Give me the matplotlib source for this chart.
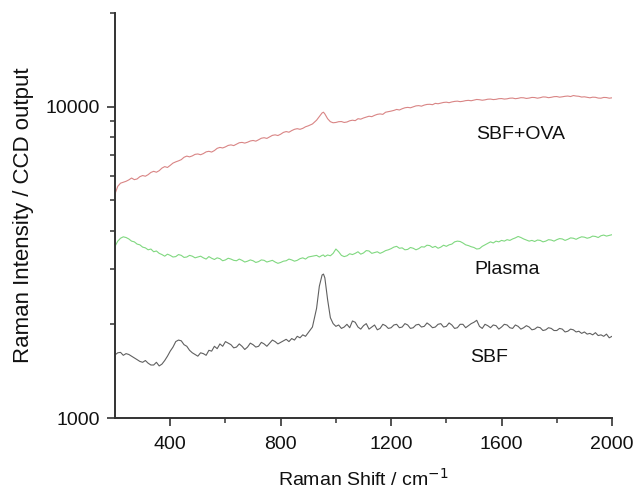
import numpy as np
import matplotlib
matplotlib.use("Agg")
import matplotlib.pyplot as plt
from matplotlib.ticker import FixedLocator, NullFormatter, LogLocator, FuncFormatter

plt.rcParams['font.family'] = ['Liberation Sans', 'DejaVu Sans']

# Raman shift (cm^-1)
shift = np.concatenate([
    np.arange(200, 901, 10),
    np.array([915, 930, 940, 950, 955, 960, 970, 980, 990]),
    np.arange(1000, 2001, 10),
])

sbf_ova = [
    # 200-900
    5250, 5550, 5680, 5720, 5760, 5820, 5900, 5830, 5860, 5960,
    6010, 5980, 6050, 6150, 6200, 6160, 6230, 6350, 6420, 6380,
    6480, 6590, 6650, 6700, 6760, 6880, 6940, 6900, 6950, 7030,
    7050, 7010, 7070, 7160, 7190, 7150, 7230, 7350, 7400, 7370,
    7430, 7510, 7540, 7500, 7580, 7660, 7680, 7640, 7690, 7760,
    7790, 7750, 7830, 7920, 7950, 7910, 8000, 8090, 8120, 8080,
    8160, 8270, 8320, 8280, 8380, 8460, 8500, 8460, 8520, 8620,
    8680,
    # peak region
    8800, 9050, 9300, 9550, 9600, 9480, 9150, 8950, 8880,
    # 1000-2000
    8900, 8950, 8960, 8900, 8930, 9010, 9050, 9020, 9150, 9120,
    9200, 9260, 9320, 9290, 9380, 9450, 9480, 9450, 9600, 9640,
    9680, 9730, 9800, 9760, 9850, 9920, 9950, 9920, 9990, 10060,
    10080, 10040, 10120, 10170, 10180, 10150, 10250, 10220, 10270, 10320,
    10340, 10300, 10360, 10400, 10420, 10380, 10410, 10460, 10480, 10450,
    10500, 10550, 10530, 10490, 10520, 10570, 10580, 10540, 10560, 10610,
    10620, 10580, 10600, 10650, 10660, 10610, 10640, 10690, 10680, 10630,
    10660, 10710, 10700, 10650, 10690, 10750, 10740, 10690, 10720, 10770,
    10780, 10730, 10760, 10800, 10820, 10780, 10860, 10820, 10800, 10740,
    10760, 10720, 10680, 10730, 10720, 10660, 10650, 10710, 10700, 10650,
    10680,
]

plasma = [
    # 200-900
    3560, 3700, 3780, 3820, 3800, 3760, 3700, 3680, 3620, 3600,
    3540, 3520, 3470, 3490, 3420, 3440, 3380, 3350, 3310, 3360,
    3330, 3290, 3300, 3350, 3330, 3280, 3290, 3330, 3310, 3270,
    3290, 3310, 3270, 3240, 3300, 3260, 3230, 3270, 3250, 3200,
    3220, 3260, 3240, 3210, 3200, 3240, 3210, 3170, 3190, 3220,
    3200, 3160, 3180, 3220, 3210, 3170, 3190, 3210, 3170, 3140,
    3160, 3190, 3200, 3240, 3220, 3190, 3210, 3250, 3270, 3240,
    3290,
    # peak region
    3310, 3330, 3290, 3330, 3340, 3300, 3340, 3320, 3380,
    # 1000-2000
    3490, 3420, 3330, 3300, 3320, 3370, 3350, 3380, 3420, 3360,
    3390, 3450, 3440, 3380, 3400, 3420, 3380, 3410, 3450, 3470,
    3500, 3540, 3560, 3510, 3520, 3470, 3480, 3530, 3510, 3470,
    3500, 3550, 3540, 3590, 3580, 3530, 3560, 3510, 3540, 3590,
    3560, 3600, 3620, 3680, 3700, 3690, 3650, 3600, 3580, 3550,
    3530, 3490, 3500, 3560, 3600, 3640, 3680, 3650, 3700, 3680,
    3720, 3700, 3740, 3720, 3760, 3790, 3830, 3800, 3760, 3730,
    3700, 3720, 3690, 3730, 3720, 3680, 3700, 3740, 3730, 3700,
    3740, 3770, 3760, 3720, 3750, 3790, 3780, 3750, 3790, 3820,
    3810, 3780, 3800, 3840, 3830, 3800, 3850, 3870, 3840, 3860,
    3880,
]

sbf = [
    # 200-900
    1595, 1620, 1625, 1590, 1610, 1600, 1580, 1560, 1540, 1520,
    1510, 1530, 1500, 1480, 1480, 1510, 1470, 1490, 1530, 1580,
    1640, 1690, 1760, 1780, 1770, 1720, 1700, 1650, 1620, 1600,
    1580, 1620, 1610, 1590, 1650, 1640, 1700, 1670, 1730, 1700,
    1760, 1740, 1720, 1680, 1690, 1730, 1700, 1660, 1690, 1740,
    1720, 1690, 1700, 1750, 1730, 1700, 1740, 1780, 1760, 1730,
    1750, 1770, 1790, 1760, 1800, 1780, 1830, 1810, 1850, 1830,
    1880,
    # peak region
    1960, 2250, 2650, 2880, 2900, 2820, 2400, 2100, 2010,
    # 1000-2000
    1970, 1990, 1940, 1960, 2000, 1950, 2050, 2030, 1960, 1930,
    1980, 2010, 1930, 1960, 1990, 1920, 1940, 2000, 1980, 1940,
    1950, 1990, 2000, 1950, 1960, 2010, 1990, 1940, 1950, 1990,
    2000, 1960, 1970, 2020, 1990, 1950, 1960, 2000, 2010, 1960,
    1970, 2020, 1990, 1940, 1950, 2000, 2000, 1950, 1980, 2010,
    2030, 2060, 1970, 1940, 2000, 1980, 1950, 1990, 1980, 1930,
    1960, 2000, 1990, 1950, 1940, 1990, 1970, 1930, 1950, 1980,
    1960, 1920, 1930, 1960, 1950, 1910, 1920, 1950, 1940, 1910,
    1910, 1940, 1930, 1890, 1900, 1930, 1920, 1890, 1900, 1870,
    1890, 1860, 1870, 1850, 1880, 1840, 1850, 1830, 1860, 1810,
    1830,
]

labels = ["SBF+OVA", "Plasma", "SBF"]
label_x = [1670, 1620, 1555]
label_y = [8130, 3010, 1560]
colors = ["#d98585", "#80d880", "#606060"]

fig = plt.figure(figsize=(6.34, 4.90), dpi=100)
ax = fig.add_axes([0.1814, 0.1469, 0.7839, 0.8266])

for ys, c in zip([sbf_ova, plasma, sbf], colors):
    ax.plot(shift, ys, color=c, lw=0.8)

for t, lx, ly in zip(labels, label_x, label_y):
    ax.text(lx, ly, t, ha='center', va='center', fontsize=14, color='#111111')

ax.set_yscale('log')
ax.set_xlim(200, 2000)
ax.set_ylim(1000, 20000)

ax.xaxis.set_major_locator(FixedLocator([400, 800, 1200, 1600, 2000]))
ax.xaxis.set_minor_locator(FixedLocator([600, 1000, 1400, 1800]))
ax.yaxis.set_major_locator(FixedLocator([1000, 10000]))
ax.yaxis.set_major_formatter(FuncFormatter(lambda v, p: f"{int(v)}"))
ax.yaxis.set_minor_locator(LogLocator(base=10, subs=np.arange(2, 10)))
ax.yaxis.set_minor_formatter(NullFormatter())

for s in ['top', 'right']:
    ax.spines[s].set_visible(False)
for s in ['left', 'bottom']:
    ax.spines[s].set_linewidth(1.4)
    ax.spines[s].set_color('#333333')

ax.tick_params(which='major', direction='out', length=6, width=1.2, color='#333333',
               labelsize=14, labelcolor='#111111')
ax.tick_params(axis='x', which='major', pad=7)
ax.tick_params(axis='y', which='major', pad=5)
ax.tick_params(which='minor', direction='out', length=3.5, width=1.1, color='#333333')

ax.set_xlabel("Raman Shift / cm$^{-1}$", fontsize=14, color='#111111', labelpad=11)
ax.set_ylabel("Raman Intensity / CCD output", fontsize=16, color='#111111', labelpad=8)

fig.savefig("out.png", dpi=100)
